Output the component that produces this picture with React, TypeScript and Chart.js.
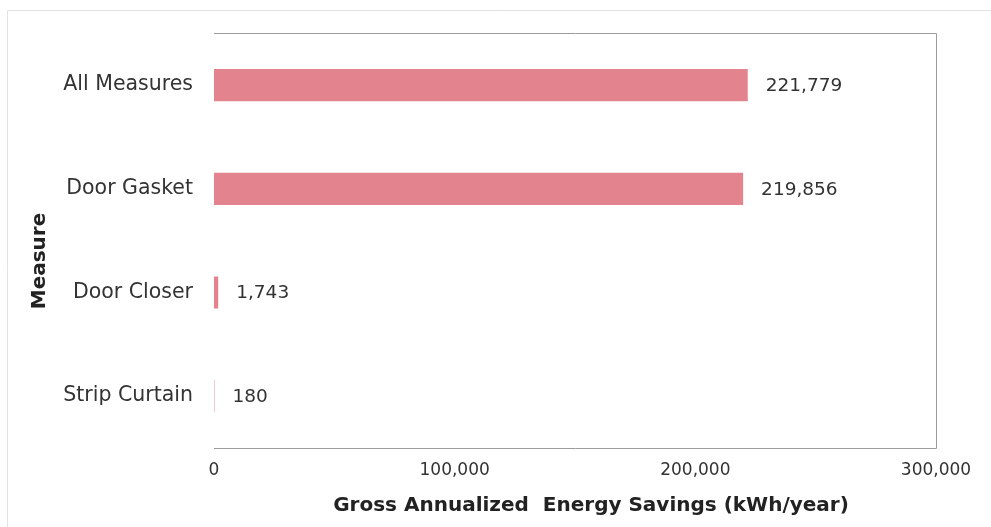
import { useEffect, useRef } from "react";
import { Chart, registerables } from "chart.js";

Chart.register(...registerables);

const categories = ["All Measures", "Door Gasket", "Door Closer", "Strip Curtain"];
const savings = [221779, 219856, 1743, 180];
const xMin = 0;
const xMax = 300000;
const xStep = 100000;
const xTitle = "Gross Annualized  Energy Savings (kWh/year)";
const yTitle = "Measure";

const FONT = "'DejaVu Sans', Verdana, sans-serif";
const BAR_COLOR = "rgb(226,131,141)";
const TEXT_COLOR = "#333333";

const decorPlugin = {
  id: "decor",
  beforeDraw(chart: any) {
    const { ctx, width, height } = chart;
    ctx.save();
    ctx.fillStyle = "#ffffff";
    ctx.fillRect(0, 0, width, height);
    ctx.strokeStyle = "#e2e2e2";
    ctx.lineWidth = 1;
    ctx.beginPath();
    ctx.moveTo(7.5, height);
    ctx.lineTo(7.5, 10.5);
    ctx.lineTo(width, 10.5);
    ctx.stroke();
    ctx.restore();
  },
  afterDatasetsDraw(chart: any) {
    const { ctx, chartArea: a } = chart;
    ctx.save();
    // plot frame (top, right, bottom)
    ctx.strokeStyle = "#9c9c9c";
    ctx.lineWidth = 1;
    ctx.beginPath();
    ctx.moveTo(a.left, Math.round(a.top) + 0.5);
    ctx.lineTo(Math.round(a.right) + 0.5, Math.round(a.top) + 0.5);
    ctx.lineTo(Math.round(a.right) + 0.5, Math.round(a.bottom) + 0.5);
    ctx.lineTo(a.left, Math.round(a.bottom) + 0.5);
    ctx.stroke();

    // value labels
    const meta = chart.getDatasetMeta(0);
    ctx.fillStyle = TEXT_COLOR;
    ctx.font = `18.5px ${FONT}`;
    ctx.textAlign = "left";
    ctx.textBaseline = "middle";
    meta.data.forEach((bar: any, i: number) => {
      ctx.fillText(savings[i].toLocaleString("en-US"), bar.x + 18, bar.y + 1);
    });

    // axis titles
    ctx.font = `bold 20px ${FONT}`;
    ctx.fillStyle = "#222222";
    ctx.textAlign = "center";
    ctx.textBaseline = "middle";
    ctx.fillText(xTitle, 591, 506);
    ctx.translate(40, 261);
    ctx.rotate(-Math.PI / 2);
    ctx.fillText(yTitle, 0, 0);
    ctx.restore();
  },
};

export default function App() {
  const ref = useRef<HTMLCanvasElement | null>(null);

  useEffect(() => {
    if (!ref.current) return;
    const chart = new Chart(ref.current, {
      type: "bar",
      data: {
        labels: categories,
        datasets: [
          {
            data: savings,
            backgroundColor: BAR_COLOR,
            borderWidth: 0,
            categoryPercentage: 1,
            barPercentage: 0.31,
          },
        ],
      },
      options: {
        indexAxis: "y",
        responsive: false,
        animation: false,
        layout: { padding: { top: 33, right: 55, left: 0, bottom: 0 } },
        plugins: {
          legend: { display: false },
          tooltip: { enabled: false },
          title: { display: false },
        },
        scales: {
          x: {
            min: xMin,
            max: xMax,
            grid: { display: false, drawTicks: false },
            border: { display: false },
            ticks: {
              stepSize: xStep,
              color: TEXT_COLOR,
              font: { family: FONT, size: 17 },
              padding: 12,
              maxRotation: 0,
            },
            afterFit(scale: any) {
              scale.height = 79;
            },
          },
          y: {
            grid: { display: false, drawTicks: false },
            border: { display: false },
            ticks: {
              color: TEXT_COLOR,
              font: { family: FONT, size: 20.5 },
              padding: 21,
            },
            afterFit(scale: any) {
              scale.width = 214;
            },
          },
        },
      },
      plugins: [decorPlugin],
    });
    return () => chart.destroy();
  }, []);

  return (
    <div style={{ position: "fixed", left: 0, top: 0, width: 991, height: 527, background: "#fff" }}>
      <canvas ref={ref} width={991} height={527} />
    </div>
  );
}
